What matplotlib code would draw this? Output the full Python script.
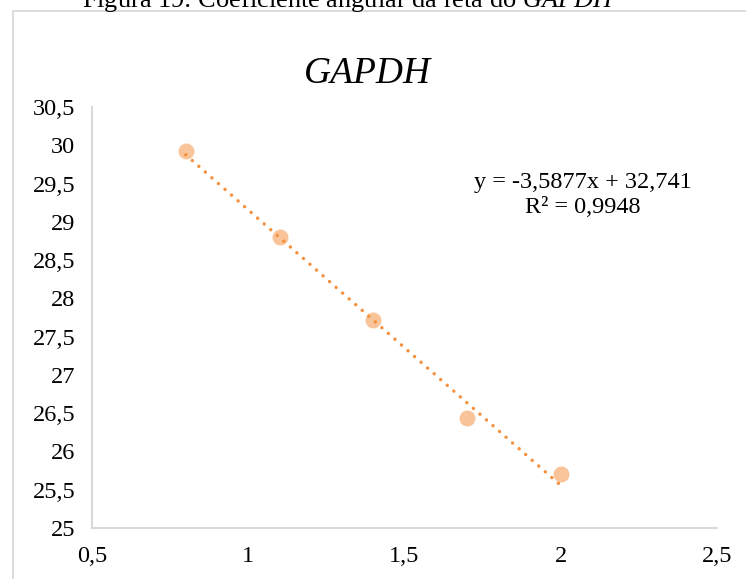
import numpy as np
import matplotlib
matplotlib.use("Agg")
from matplotlib import pyplot as plt
from matplotlib.patches import Rectangle
from matplotlib.ticker import FuncFormatter

log_conc = [0.8, 1.1, 1.4, 1.7, 2.0]
ct = [29.92, 28.80, 27.72, 26.44, 25.70]
eq_text = "y = -3,5877x + 32,741\nR² = 0,9948"
title = "GAPDH"
caption = r"Figura 19: Coeficiente angular da reta do $\mathit{GAPDH}$"

plt.rcParams['font.family'] = ['Liberation Serif', 'DejaVu Serif']
plt.rcParams['mathtext.fontset'] = 'custom'
plt.rcParams['mathtext.it'] = 'Liberation Serif:italic'
plt.rcParams['mathtext.rm'] = 'Liberation Serif'

W, H = 746, 579
fig = plt.figure(figsize=(W / 100, H / 100), dpi=100)

# chart area border (partly cut off in the reference)
fig.patches.append(Rectangle((12.5 / W, -0.1), 2.0, (H - 11) / H + 0.1,
                             transform=fig.transFigure, fill=False,
                             edgecolor='#D9D9D9', linewidth=1.3))

# caption above chart, cut by the top edge
fig.text(82 / W, 1 - 7 / H, caption, fontsize=19, va='baseline', ha='left')

ax = fig.add_axes([92 / W, (H - 528) / H, (717 - 92) / W, (528 - 107) / H])

ax.plot(log_conc, ct, 'o', markersize=11.5, color='#F9C499',
        markeredgewidth=0, zorder=2)

coef = np.polyfit(log_conc, ct, 1)
xs = np.array([min(log_conc), max(log_conc)])
ax.plot(xs, np.polyval(coef, xs), color='#F5913E', linewidth=2.5,
        linestyle=(0, (0.01, 2.5)), dash_capstyle='round', zorder=3)

ax.set_xlim(0.5, 2.5)
ax.set_ylim(25, 30.5)
ax.set_xticks(np.arange(0.5, 2.51, 0.5))
ax.set_yticks(np.arange(25, 30.51, 0.5))
fmt = FuncFormatter(lambda v, p: ('%g' % v).replace('.', ','))
ax.xaxis.set_major_formatter(fmt)
ax.yaxis.set_major_formatter(fmt)
ax.tick_params(length=0, labelsize=17.5, pad=12)
ax.tick_params(axis='x', pad=13)

for s in ['top', 'right']:
    ax.spines[s].set_visible(False)
for s in ['left', 'bottom']:
    ax.spines[s].set_color('#D9D9D9')
    ax.spines[s].set_linewidth(1.5)

fig.text(367 / W, 1 - 83 / H, title, fontsize=27, style='italic',
         ha='center', va='baseline')
fig.text(583 / W, 1 - 195 / H, eq_text, fontsize=17.5, ha='center',
         va='center', linespacing=1.2)

fig.savefig("out.png", dpi=100)
